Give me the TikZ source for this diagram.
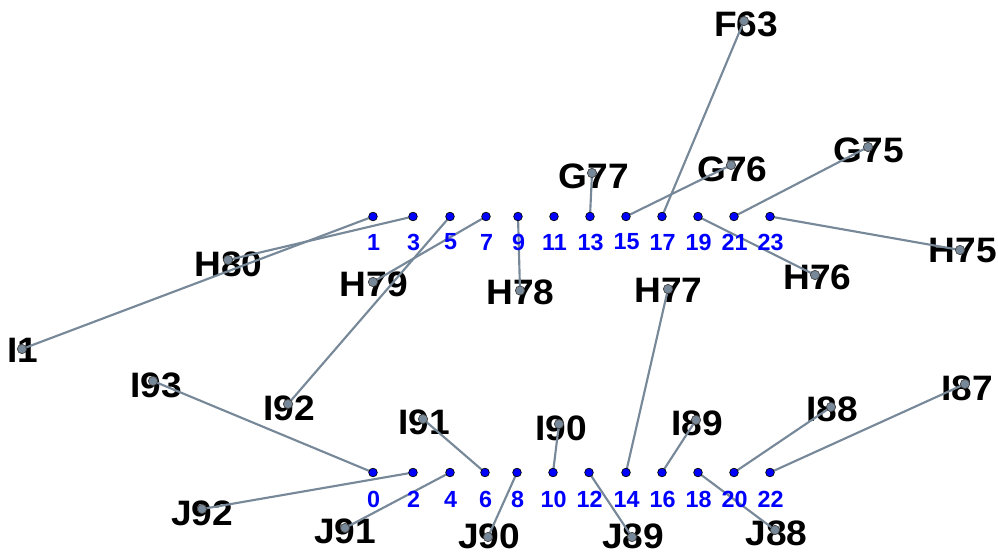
\documentclass[tikz,border=0pt]{standalone}
\usepackage{fontspec}
\setmainfont{Liberation Sans}
\newfontfamily\labfont[FakeStretch=1.05]{Liberation Sans Bold}
\definecolor{wirec}{RGB}{119,136,153}
\pgfdeclarelayer{bg}
\pgfsetlayers{bg,main}
\tikzset{
  pinnode/.style={circle, fill=blue, draw=black, line width=0.5pt, inner sep=0pt, minimum size=6.5pt},
  pinnum/.style={text=blue, font=\fontsize{17.5}{17.5}\selectfont\bfseries, inner sep=0pt},
  lab/.style={font=\fontsize{26.5}{26.5}\selectfont\labfont, inner sep=0pt},
  ldot/.style={circle, fill=wirec, draw=black!75, line width=0.5pt, inner sep=0pt, minimum size=7pt},
  wire/.style={draw=wirec, line width=1.6pt}
}
\begin{document}
\begin{tikzpicture}[x=0.75pt,y=-0.75pt]
\useasboundingbox (0,0) rectangle (998,556);
% pins top row (odd)
\foreach \n/\x in {1/373,3/413,5/450,7/486,9/518,11/554,13/590,15/626,17/662,19/698,21/734,23/770}{
  \node[pinnode] (p\n) at (\x,216.5) {};
  \node[pinnum] (n\n) at (\x+0.5,242) {\n};
}
% pins bottom row (even)
\foreach \n/\x in {0/373,2/413,4/450,6/485,8/517,10/553,12/589,14/626,16/662,18/698,20/734,22/770}{
  \node[pinnode] (p\n) at (\x,472.5) {};
  \node[pinnum] (n\n) at (\x+0.5,499) {\n};
}
% labels: name / dot x / dot y / text x / text y / pin
\foreach \nm/\dx/\dy/\tx/\ty/\p in {
  F63/744/21/746/24.5/17,
  G77/592/173/594/176/13,
  G76/731/165/732.5/169.5/15,
  G75/868/147/869/150/21,
  H75/960/250/963/250.5/23,
  H76/815/275/817.5/277.5/19,
  H77/668/289/668.5/290/14,
  H78/520/290.5/520.5/292.5/9,
  H79/373/282/374/284/7,
  H80/228/260/228.5/264/3,
  I1/22/349/22.5/350.5/1,
  I93/153/381/156/385.5/0,
  I92/288/404/289/408/5,
  I91/423/419/424/422/6,
  J92/202/509/202/513/2,
  J91/345/528/345/531.5/4,
  J90/488/537/489/536/8,
  I90/559/424/561/428/10,
  J89/632/537/633/536/12,
  I89/696/420/697/423/16,
  J88/775/530/776.5/533/18,
  I88/831/407/832/409.5/20,
  I87/965/384/967/388/22}{
  \begin{pgfonlayer}{bg}
    \node[lab] (t\nm) at (\tx,\ty) {\nm};
  \end{pgfonlayer}
  \node[ldot] (\nm) at (\dx,\dy) {};
  \begin{pgfonlayer}{bg}
    \draw[wire] (\nm.center) -- (p\p.center);
  \end{pgfonlayer}
}
\end{tikzpicture}
\end{document}
